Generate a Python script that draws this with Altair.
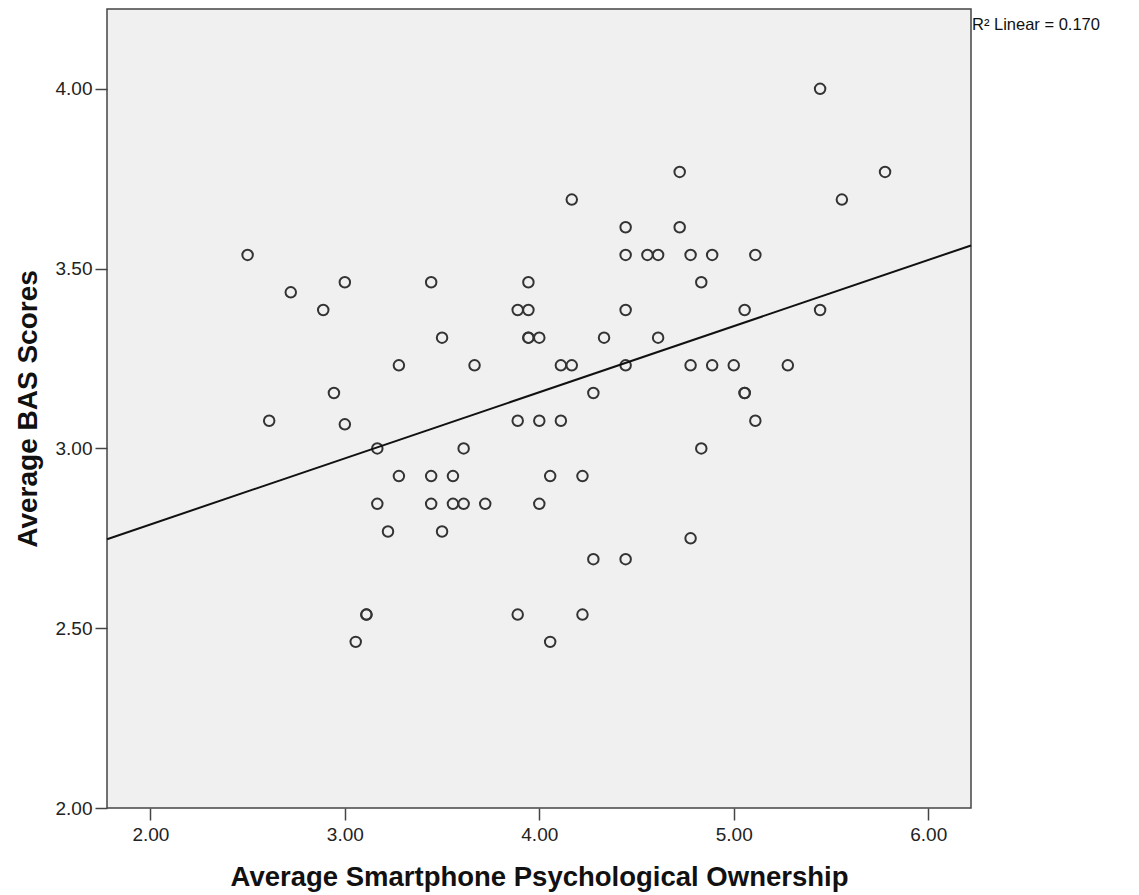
import altair as alt
import pandas as pd

# Average Smartphone Psychological Ownership (x) and Average BAS Scores (y)
ownership = [
    2.500, 2.722, 3.000, 2.889, 3.444, 3.500, 3.278, 2.944, 2.611, 3.000,
    3.167, 3.278, 3.444, 3.167, 3.444, 3.222, 3.500, 3.111, 3.111, 3.056,
    4.167, 4.444, 4.444, 3.944, 3.889, 3.944, 4.444, 3.944, 3.944, 4.000,
    4.333, 3.667, 4.111, 4.167, 4.444, 4.278, 3.889, 4.000, 4.111, 3.611,
    3.556, 4.056, 4.222, 3.556, 3.611, 3.722, 4.000, 4.278, 4.444, 3.889,
    4.222, 4.056, 5.444, 4.722, 5.778, 5.556, 4.722, 4.556, 4.611, 4.778,
    4.889, 5.111, 4.833, 5.056, 5.444, 4.611, 4.778, 4.889, 5.000, 5.278,
    5.056, 5.056, 5.111, 4.833, 4.778,
]
bas = [
    3.538, 3.434, 3.462, 3.385, 3.462, 3.308, 3.231, 3.154, 3.077, 3.067,
    3.000, 2.923, 2.923, 2.846, 2.846, 2.769, 2.769, 2.538, 2.538, 2.462,
    3.692, 3.615, 3.538, 3.462, 3.385, 3.385, 3.385, 3.308, 3.308, 3.308,
    3.308, 3.231, 3.231, 3.231, 3.231, 3.154, 3.077, 3.077, 3.077, 3.000,
    2.923, 2.923, 2.923, 2.846, 2.846, 2.846, 2.846, 2.692, 2.692, 2.538,
    2.538, 2.462, 4.000, 3.769, 3.769, 3.692, 3.615, 3.538, 3.538, 3.538,
    3.538, 3.538, 3.462, 3.385, 3.385, 3.308, 3.231, 3.231, 3.231, 3.231,
    3.154, 3.154, 3.077, 3.000, 2.750,
]
x_ticks = [2.0, 3.0, 4.0, 5.0, 6.0]
y_ticks = [2.0, 2.5, 3.0, 3.5, 4.0]
x_domain = [1.777, 6.22]
y_domain = [2.0, 4.222]
fit_label = ["R² Linear = 0.170"]

df = pd.DataFrame({"x": ownership, "y": bas})

W, H = 864, 799
FONT = "Liberation Sans"

x_enc = alt.X(
    "x:Q",
    scale=alt.Scale(domain=x_domain, nice=False, zero=False),
    axis=alt.Axis(
        values=x_ticks, format=".2f", title="Average Smartphone Psychological Ownership",
        grid=False, domain=False, tickSize=12, tickColor="#444", tickWidth=1.5,
        labelFontSize=19, labelColor="#222", labelFont=FONT, labelPadding=5,
        titleFontSize=27.5, titleFont=FONT, titleFontWeight="bold", titleColor="#111",
        titlePadding=19,
    ),
)
y_enc = alt.Y(
    "y:Q",
    scale=alt.Scale(domain=y_domain, nice=False, zero=False),
    axis=alt.Axis(
        values=y_ticks, format=".2f", title="Average BAS Scores",
        grid=False, domain=False, tickSize=12, tickColor="#444", tickWidth=1.5,
        labelFontSize=19, labelColor="#222", labelFont=FONT, labelPadding=3,
        titleFontSize=28, titleFont=FONT, titleFontWeight="bold", titleColor="#111",
        titlePadding=13,
    ),
)

base = alt.Chart(df)

points = base.mark_point(
    shape="circle", filled=False, size=110, strokeWidth=2, color="#333", opacity=1
).encode(x=x_enc, y=y_enc)

line = base.transform_regression(
    "x", "y", extent=x_domain
).mark_line(color="#111", strokeWidth=2).encode(x="x:Q", y="y:Q")

label = alt.Chart(pd.DataFrame({"t": fit_label})).mark_text(
    align="left", baseline="middle", fontSize=16.5, font=FONT, color="#111"
).encode(x=alt.value(W + 1), y=alt.value(16), text="t:N")

chart = alt.layer(points, line, label).properties(
    width=W, height=H,
    background="white",
    autosize=alt.AutoSizeParams(type="none"),
    padding={"left": 99, "top": 1, "right": 160, "bottom": 86},
).configure_view(
    fill="#f0f0f0", stroke="#444", strokeWidth=1.5
)

chart.save("out.html", embed_options={"renderer": "svg", "actions": False})
